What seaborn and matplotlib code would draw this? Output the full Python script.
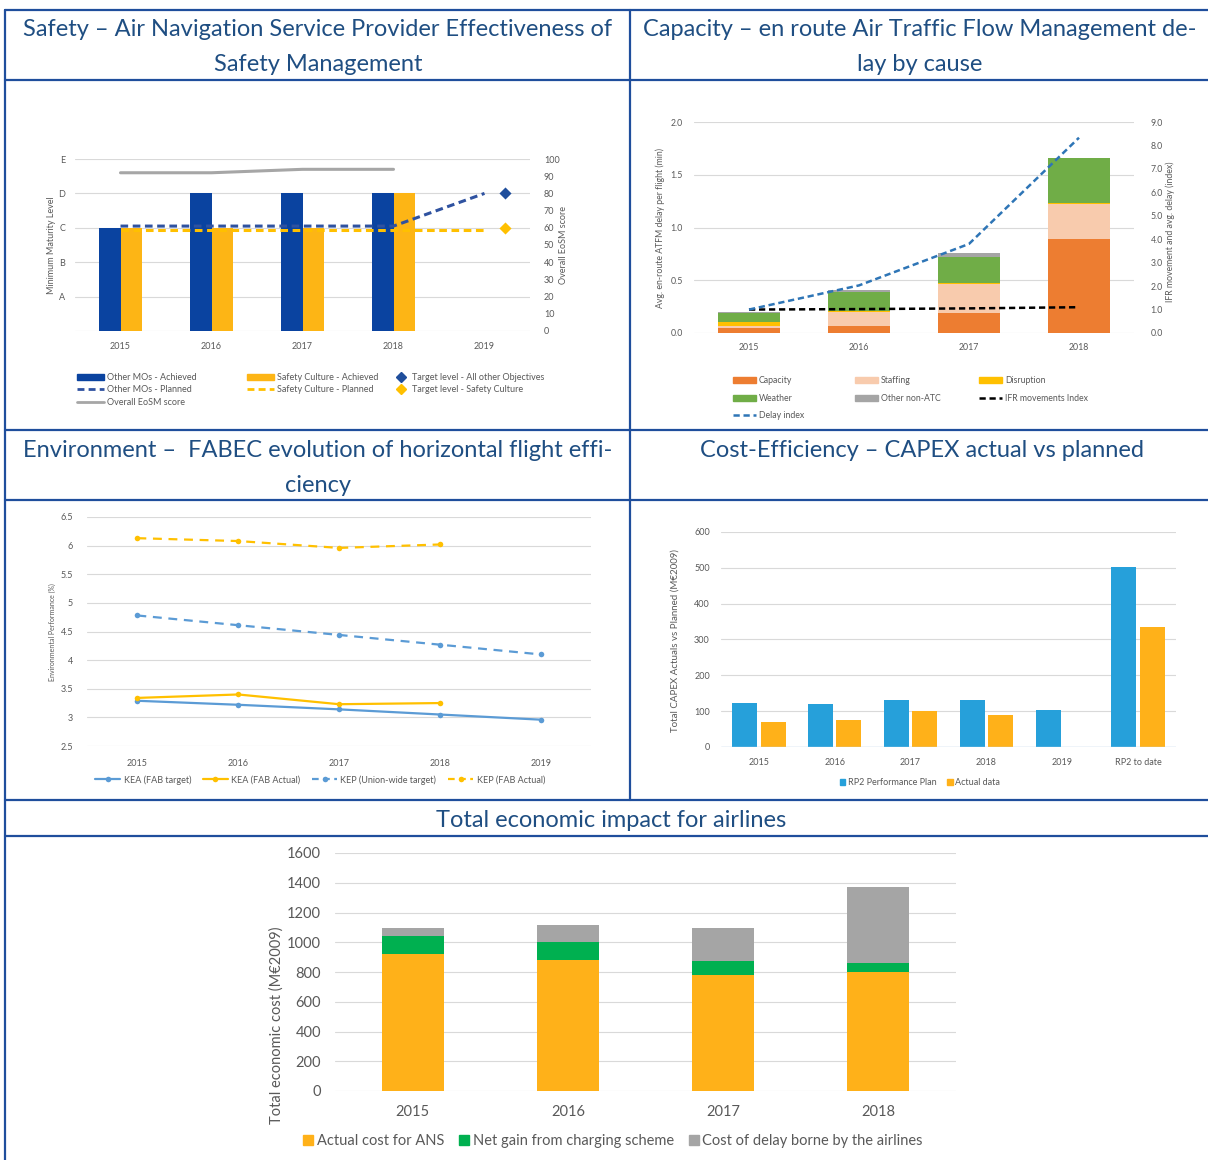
import numpy as np
import pandas as pd
import matplotlib
matplotlib.use("Agg")
import matplotlib.pyplot as plt
import seaborn as sns
from matplotlib.lines import Line2D
from matplotlib.patches import Patch

# ---------------- data ----------------
# Safety
safety_years = ["2015", "2016", "2017", "2018", "2019"]
maturity_labels = ["", "A", "B", "C", "D", "E"]
other_mos_achieved = [3, 4, 4, 4, np.nan]
safety_culture_achieved = [3, 3, 3, 4, np.nan]
other_mos_planned = [61, 61, 61, 61, 80]
safety_culture_planned = [59, 59, 59, 59, 59]
eosm_score = [92, 92, 94, 94]
target_other = [80]
target_safety_culture = [60]

# Capacity
cap_years = ["2015", "2016", "2017", "2018"]
delay_capacity = [0.05, 0.07, 0.19, 0.89]
delay_staffing = [0.02, 0.13, 0.27, 0.33]
delay_disruption = [0.03, 0.005, 0.01, 0.015]
delay_weather = [0.09, 0.18, 0.25, 0.42]
delay_other = [0.01, 0.02, 0.04, 0.0]
ifr_index = [1.0, 1.02, 1.05, 1.10]
delay_index = [1.0, 2.03, 3.8, 8.33]

# Environment
env_years = ["2015", "2016", "2017", "2018", "2019"]
kea_target = [3.29, 3.22, 3.14, 3.05, 2.96]
kea_actual = [3.34, 3.40, 3.23, 3.25, np.nan]
kep_target = [4.78, 4.61, 4.44, 4.27, 4.10]
kep_actual = [6.13, 6.08, 5.96, 6.02, np.nan]

# Cost-efficiency
capex_cats = ["2015", "2016", "2017", "2018", "2019", "RP2 to date"]
capex_plan = [122, 120, 130, 130, 103, 502]
capex_actual = [71, 75, 100, 90, np.nan, 336]

# Total economic impact
eco_years = ["2015", "2016", "2017", "2018"]
eco_ans = [919, 881, 778, 800]
eco_net_gain = [121, 121, 98, 63]
eco_delay = [54, 115, 223, 508]

# ---------------- style ----------------
sns.set_theme(style="white")
plt.rcParams["font.family"] = ["Lato", "DejaVu Sans"]
GRAY = "#595959"
GRID = "#d9d9d9"
BORDER = "#1f4e9c"
TITLE = "#1f4e82"

W, H = 1208, 1160
fig = plt.figure(figsize=(W / 100, H / 100), dpi=100)


def px_axes(x0, y0, x1, y1):
    return fig.add_axes([x0 / W, 1 - y1 / H, (x1 - x0) / W, (y1 - y0) / H])


def style_axis(ax, fs, grid=True):
    for s in ax.spines.values():
        s.set_visible(False)
    ax.tick_params(length=0, labelsize=fs, colors=GRAY)
    if grid:
        ax.yaxis.grid(True, color=GRID, lw=0.8)
        ax.xaxis.grid(False)
        ax.set_axisbelow(True)
    ax.set_xlabel("")
    ax.set_ylabel("")


def ftext(x, y, s, **kw):
    return fig.text(x / W, 1 - y / H, s, **kw)


def legend_at(handles, labels, x, y, fs, loc="upper left", **kw):
    leg = fig.legend(handles, labels, loc=loc, bbox_to_anchor=(x / W, 1 - y / H),
                     bbox_transform=fig.transFigure, frameon=False, fontsize=fs,
                     borderpad=0, borderaxespad=0, **kw)
    for t in leg.get_texts():
        t.set_color(GRAY)
    return leg


# ---------------- table frame ----------------
def hline(y, x0=5, x1=1208):
    fig.add_artist(Line2D([x0 / W, x1 / W], [1 - y / H, 1 - y / H], transform=fig.transFigure,
                          color=BORDER, lw=1.6))


def vline(x, y0, y1):
    fig.add_artist(Line2D([x / W, x / W], [1 - y0 / H, 1 - y1 / H], transform=fig.transFigure,
                          color=BORDER, lw=1.6))


for yy in [10, 80, 430, 500, 800, 836]:
    hline(yy)
vline(5, 10, 1160)
vline(630, 10, 800)

TFS = 17
LS = 1.82
ftext(318, 19, "Safety – Air Navigation Service Provider Effectiveness of\nSafety Management",
      ha="center", va="top", fontsize=TFS, color=TITLE, linespacing=LS)
ftext(920, 19, "Capacity – en route Air Traffic Flow Management de-\nlay by cause",
      ha="center", va="top", fontsize=TFS, color=TITLE, linespacing=LS)
ftext(318, 440, "Environment –  FABEC evolution of horizontal flight effi-\nciency",
      ha="center", va="top", fontsize=TFS, color=TITLE, linespacing=LS)
ftext(922, 440, "Cost-Efficiency – CAPEX actual vs planned",
      ha="center", va="top", fontsize=TFS, color=TITLE)
ftext(611, 810, "Total economic impact for airlines",
      ha="center", va="top", fontsize=TFS, color=TITLE)

# ---------------- Panel 1: Safety ----------------
C_NAVY = "#0a43a0"
C_ORANGE = "#fdb515"
C_NAVY_D = "#2f52a0"
C_YELLOW = "#ffc000"
C_LGRAY = "#a6a6a6"
FS1 = 6.5

ax1 = px_axes(75, 159, 530, 331)
df1 = pd.DataFrame({
    "year": safety_years * 2,
    "level": other_mos_achieved + safety_culture_achieved,
    "series": ["Other MOs - Achieved"] * 5 + ["Safety Culture - Achieved"] * 5,
})
sns.barplot(data=df1, x="year", y="level", hue="series", order=safety_years,
            hue_order=["Other MOs - Achieved", "Safety Culture - Achieved"],
            palette=[C_NAVY, C_ORANGE], width=0.48, saturation=1, errorbar=None,
            legend=False, linewidth=0, ax=ax1)
style_axis(ax1, FS1)
ax1.set_ylim(0, 5)
ax1.set_yticks(range(6), maturity_labels)
ax1.tick_params(axis="y", pad=7)
ax1.tick_params(axis="x", pad=8)

ax1r = ax1.twinx()
sns.lineplot(x=np.arange(5), y=other_mos_planned, ax=ax1r, color=C_NAVY_D, lw=2.2,
             linestyle=(0, (2.5, 1.5)))
sns.lineplot(x=np.arange(5), y=safety_culture_planned, ax=ax1r, color=C_YELLOW, lw=2.2,
             linestyle=(0, (2.5, 1.5)))
sns.lineplot(x=np.arange(4), y=eosm_score, ax=ax1r, color=C_LGRAY, lw=2.2)
sns.scatterplot(x=[4.23], y=target_other, ax=ax1r, marker="D", s=38, color="#1f4e9c", linewidth=0)
sns.scatterplot(x=[4.23], y=target_safety_culture, ax=ax1r, marker="D", s=38, color=C_YELLOW, linewidth=0)
style_axis(ax1r, FS1, grid=False)
ax1r.set_ylim(0, 100)
ax1r.set_yticks(range(0, 101, 10))
ax1r.tick_params(axis="y", pad=10)
ax1.set_xlim(-0.5, 4.5)

ftext(52, 245, "Minimum Maturity Level", rotation=90, ha="center", va="center", fontsize=FS1, color=GRAY)
ftext(563, 245, "Overall EoSM score", rotation=90, ha="center", va="center", fontsize=FS1, color=GRAY)

dash = (0, (2.5, 1.5))
h_a = [Patch(color=C_NAVY), Line2D([], [], color=C_NAVY_D, lw=2, ls=dash), Line2D([], [], color=C_LGRAY, lw=2)]
legend_at(h_a, ["Other MOs - Achieved", "Other MOs - Planned", "Overall EoSM score"], 77, 373, FS1,
          handlelength=3.0, handleheight=0.7, handletextpad=0.35, labelspacing=0.38)
h_b = [Patch(color=C_ORANGE), Line2D([], [], color=C_YELLOW, lw=2, ls=dash)]
legend_at(h_b, ["Safety Culture - Achieved", "Safety Culture - Planned"], 247, 373, FS1,
          handlelength=3.0, handleheight=0.7, handletextpad=0.35, labelspacing=0.38)
h_c = [Line2D([], [], color="#1f4e9c", marker="D", ls="none", markersize=5.5),
       Line2D([], [], color=C_YELLOW, marker="D", ls="none", markersize=5.5)]
legend_at(h_c, ["Target level - All other Objectives", "Target level - Safety Culture"], 395, 373, FS1,
          handlelength=1.4, handleheight=0.7, handletextpad=0.5, labelspacing=0.38)

# ---------------- Panel 2: Capacity ----------------
C_CAP = "#ed7d31"
C_STAFF = "#f8cbad"
C_DISR = "#ffc000"
C_WEATH = "#70ad47"
C_OTHER = "#a5a5a5"
C_DIDX = "#2e75b6"
FS2 = 6.3

ax2 = px_axes(694, 122, 1134, 333)
layers = np.array([delay_capacity, delay_staffing, delay_disruption, delay_weather, delay_other])
cum = np.cumsum(layers, axis=0)
layer_colors = [C_CAP, C_STAFF, C_DISR, C_WEATH, C_OTHER]
for i in reversed(range(len(layers))):
    sns.barplot(x=cap_years, y=cum[i], order=cap_years, color=layer_colors[i], width=0.57,
                saturation=1, errorbar=None, linewidth=0, ax=ax2)
style_axis(ax2, FS2)
ax2.set_ylim(0, 2.0)
ax2.set_yticks(np.arange(0, 2.01, 0.5), [f"{v:.1f}" for v in np.arange(0, 2.01, 0.5)])
ax2.tick_params(axis="y", pad=8)
ax2.tick_params(axis="x", pad=7)

ax2r = ax2.twinx()
sns.lineplot(x=np.arange(4), y=ifr_index, ax=ax2r, color="black", lw=1.8, linestyle=(0, (2.5, 1.5)))
sns.lineplot(x=np.arange(4), y=delay_index, ax=ax2r, color=C_DIDX, lw=1.8, linestyle=(0, (2.5, 1.5)))
style_axis(ax2r, FS2, grid=False)
ax2r.set_ylim(0, 9)
ax2r.set_yticks(range(10), [f"{v:.1f}" for v in range(10)])
ax2r.tick_params(axis="y", pad=12)
ax2.set_xlim(-0.5, 3.5)

ftext(660, 228, "Avg. en-route ATFM delay per flight (min)", rotation=90, ha="center", va="center",
      fontsize=FS2, color=GRAY)
ftext(1170, 232, "IFR movement and avg. delay (index)", rotation=90, ha="center", va="center",
      fontsize=FS2, color=GRAY)

hk = dict(handlelength=2.6, handleheight=0.7, handletextpad=0.35, labelspacing=1.0)
legend_at([Patch(color=C_CAP), Patch(color=C_WEATH), Line2D([], [], color=C_DIDX, lw=1.8, ls=dash)],
          ["Capacity", "Weather", "Delay index"], 733, 376, FS2, **hk)
legend_at([Patch(color=C_STAFF), Patch(color=C_OTHER)], ["Staffing", "Other non-ATC"], 855, 376, FS2, **hk)
legend_at([Patch(color=C_DISR), Line2D([], [], color="black", lw=1.8, ls=dash)],
          ["Disruption", "IFR movements Index"], 979, 376, FS2, **hk)

# ---------------- Panel 3: Environment ----------------
C_BLUE = "#5b9bd5"
C_YEL = "#ffc000"
FS3 = 6.5

ax3 = px_axes(87, 517, 591, 746)
x5 = np.arange(5)
sns.lineplot(x=x5, y=kea_target, ax=ax3, color=C_BLUE, lw=1.6, marker="o", markersize=4, markeredgewidth=0)
sns.lineplot(x=x5, y=kea_actual, ax=ax3, color=C_YEL, lw=1.6, marker="o", markersize=4, markeredgewidth=0)
sns.lineplot(x=x5, y=kep_target, ax=ax3, color=C_BLUE, lw=1.6, marker="o", markersize=4, markeredgewidth=0,
             linestyle=(0, (4, 3)))
sns.lineplot(x=x5, y=kep_actual, ax=ax3, color=C_YEL, lw=1.6, marker="o", markersize=4, markeredgewidth=0,
             linestyle=(0, (4, 3)))
style_axis(ax3, FS3)
ax3.set_ylim(2.5, 6.5)
yt3 = np.arange(2.5, 6.51, 0.5)
ax3.set_yticks(yt3, [f"{v:g}" for v in yt3])
ax3.set_xticks(x5, env_years)
ax3.set_xlim(-0.5, 4.5)
ax3.tick_params(axis="y", pad=10)
ax3.tick_params(axis="x", pad=9)
ftext(52, 632, "Environmental Performance (%)", rotation=90, ha="center", va="center", fontsize=5, color=GRAY)

h3 = [Line2D([], [], color=C_BLUE, lw=1.6, marker="o", markersize=4, markeredgewidth=0),
      Line2D([], [], color=C_YEL, lw=1.6, marker="o", markersize=4, markeredgewidth=0),
      Line2D([], [], color=C_BLUE, lw=1.6, marker="o", markersize=4, markeredgewidth=0, ls=(0, (3, 2))),
      Line2D([], [], color=C_YEL, lw=1.6, marker="o", markersize=4, markeredgewidth=0, ls=(0, (3, 2)))]
legend_at(h3, ["KEA (FAB target)", "KEA (FAB Actual)", "KEP (Union-wide target)", "KEP (FAB Actual)"],
          320, 775, FS3, loc="upper center", ncol=4, handlelength=2.8, handletextpad=0.35, columnspacing=1.3)

# ---------------- Panel 4: CAPEX ----------------
C_PLAN = "#26a0da"
C_ACT = "#ffb119"
FS4 = 6.5

ax4 = px_axes(721, 532, 1176, 747)
df4 = pd.DataFrame({
    "cat": capex_cats * 2,
    "value": capex_plan + capex_actual,
    "series": ["RP2 Performance Plan"] * 6 + ["Actual data"] * 6,
})
sns.barplot(data=df4, x="cat", y="value", hue="series", order=capex_cats,
            hue_order=["RP2 Performance Plan", "Actual data"], palette=[C_PLAN, C_ACT],
            width=0.75, gap=0.12, saturation=1, errorbar=None, legend=False, linewidth=0, ax=ax4)
style_axis(ax4, FS4)
ax4.set_ylim(0, 600)
ax4.set_yticks(range(0, 601, 100))
ax4.set_xlim(-0.5, 5.5)
ax4.tick_params(axis="y", pad=8)
ax4.tick_params(axis="x", pad=8)
ax4.axhline(0, color="#bdd7ee", lw=1.0)
ftext(675, 641, "Total CAPEX Actuals vs Planned (M€2009)", rotation=90, ha="center", va="center",
      fontsize=7, color=GRAY)
legend_at([Patch(color=C_PLAN), Patch(color=C_ACT)], ["RP2 Performance Plan", "Actual data"],
          920, 778, FS4, loc="upper center", ncol=2, handlelength=0.6, handleheight=0.6,
          handletextpad=0.3, columnspacing=1.2)

# ---------------- Panel 5: Total economic impact ----------------
C_ANS = "#ffb119"
C_GAIN = "#00b050"
C_DELAY = "#a5a5a5"
FS5 = 10.5

ax5 = px_axes(335, 853, 956, 1091)
eco_layers = np.array([eco_ans, eco_net_gain, eco_delay])
eco_cum = np.cumsum(eco_layers, axis=0)
eco_colors = [C_ANS, C_GAIN, C_DELAY]
for i in reversed(range(len(eco_layers))):
    sns.barplot(x=eco_years, y=eco_cum[i], order=eco_years, color=eco_colors[i], width=0.4,
                saturation=1, errorbar=None, linewidth=0, ax=ax5)
style_axis(ax5, FS5)
ax5.set_ylim(0, 1600)
ax5.set_yticks(range(0, 1601, 200))
ax5.set_xlim(-0.5, 3.5)
ax5.tick_params(axis="y", pad=10)
ax5.tick_params(axis="x", pad=10)
ftext(277, 1025, "Total economic cost (M€2009)", rotation=90, ha="center", va="center",
      fontsize=FS5, color=GRAY)
legend_at([Patch(color=C_ANS), Patch(color=C_GAIN), Patch(color=C_DELAY)],
          ["Actual cost for ANS", "Net gain from charging scheme", "Cost of delay borne by the airlines"],
          613, 1134, FS5, loc="upper center", ncol=3, handlelength=0.7, handleheight=0.7,
          handletextpad=0.25, columnspacing=1.0)

fig.savefig("out.png", dpi=100)
